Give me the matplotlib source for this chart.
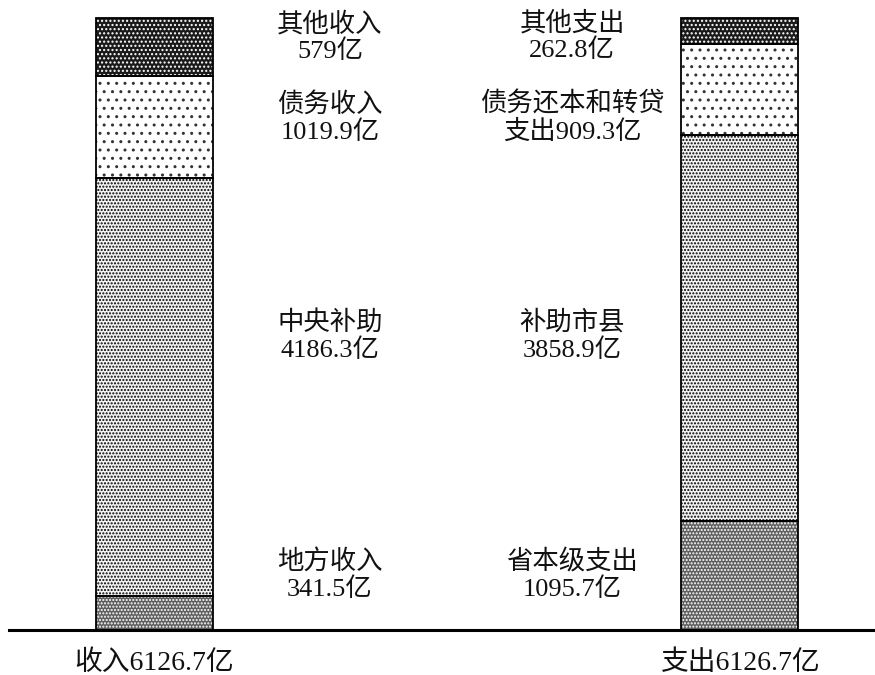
import matplotlib
matplotlib.use("Agg")
import matplotlib.pyplot as plt

plt.rcParams['font.family'] = ['Liberation Serif', 'Noto Sans CJK SC']
plt.rcParams['hatch.linewidth'] = 1.0

# ---- data ----
income_names = ["地方收入", "中央补助", "债务收入", "其他收入"]
income_values = [341.5, 4186.3, 1019.9, 579.0]
income_labels = ["地方收入\n341.5亿", "中央补助\n4186.3亿", "债务收入\n1019.9亿", "其他收入\n579亿"]

expense_names = ["省本级支出", "补助市县", "债务还本和转贷支出", "其他支出"]
expense_values = [1095.7, 3858.9, 909.3, 262.8]
expense_labels = ["省本级支出\n1095.7亿", "补助市县\n3858.9亿", "债务还本和转贷\n支出909.3亿", "其他支出\n262.8亿"]

bar_titles = ["收入6126.7亿", "支出6126.7亿"]

# ---- styles (per stack level, bottom to top) ----
faces = ["#5e5e5e", "#f2f2f2", "#ffffff", "#1a1a1a"]
hatch_cols = ["#ffffff", "#000000", "#333333", "#ffffff"]
hatches = [".....", ".....", "..", "...."]

fig = plt.figure(figsize=(8.75, 6.75), dpi=100)
ax = fig.add_axes([0, 0, 1, 1])
ax.set_xlim(-0.264, 1.2316)
ax.set_ylim(-450.5, 6307)
ax.axis('off')

width = 0.2
for xi, vals in enumerate([income_values, expense_values]):
    bottom = 0.0
    for k, v in enumerate(vals):
        ax.bar(xi, v, bottom=bottom, width=width, color=faces[k],
               edgecolor=hatch_cols[k], hatch=hatches[k], linewidth=0, zorder=2)
        ax.bar(xi, v, bottom=bottom, width=width, fill=False,
               edgecolor='black', linewidth=1.3, zorder=3)
        bottom += v

# baseline
ax.plot([-0.249, 1.2316], [0, 0], color='black', linewidth=2.2, zorder=4)

# labels
label_x = [0.30, 0.714]
label_y = [551, 2943, 5126, 5937]
for i, labs in enumerate([income_labels, expense_labels]):
    for k, t in enumerate(labs):
        ax.text(label_x[i], label_y[k], t, ha='center', va='center',
                fontsize=19, linespacing=1.15, color='#111111')

for xi, t in enumerate(bar_titles):
    ax.text(xi, -335, t, ha='center', va='center', fontsize=20, color='#111111')

fig.savefig("out.png", dpi=100)
